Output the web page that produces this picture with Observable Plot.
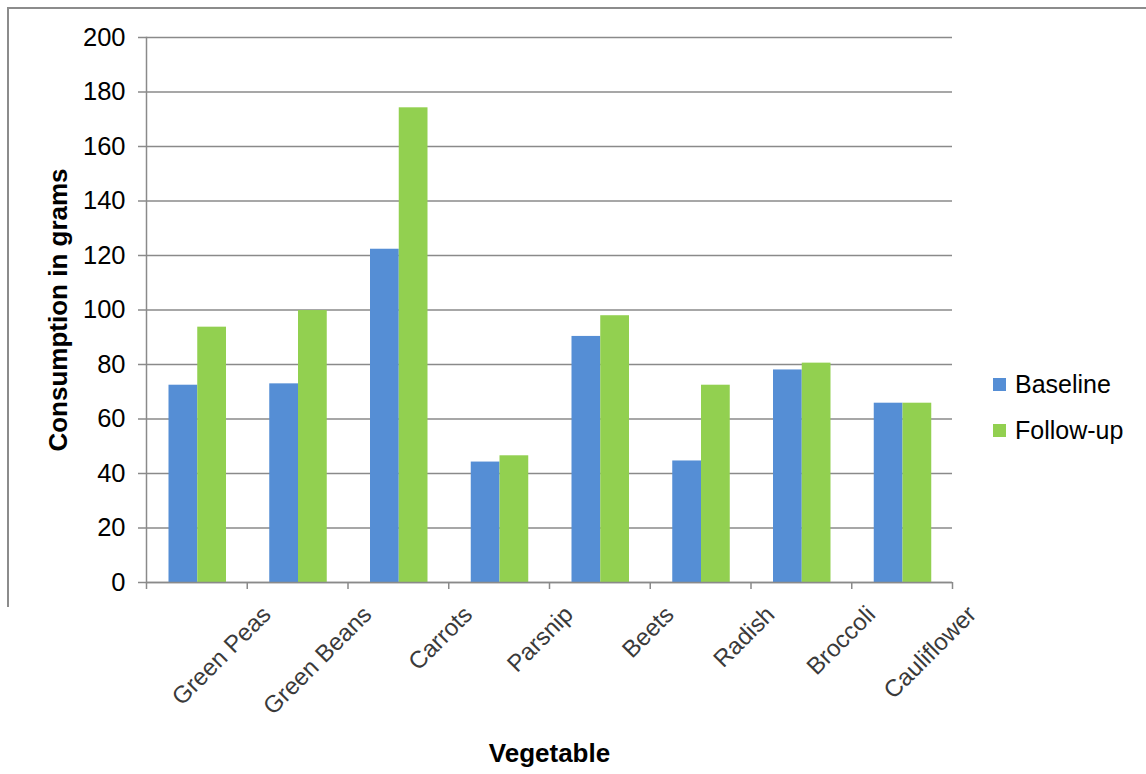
<!DOCTYPE html>
<html>
<head>
<meta charset="utf-8">
<script src="https://cdn.jsdelivr.net/npm/d3@7"></script>
<script src="https://cdn.jsdelivr.net/npm/@observablehq/plot@0.6"></script>
<style>
  html, body { margin: 0; padding: 0; background: #fff; }
  body { width: 1146px; height: 774px; position: relative; overflow: hidden;
         font-family: "Liberation Sans", Arial, sans-serif; }
  #border { position: absolute; left: 7px; top: 7px; width: 1139px; height: 598px;
            border-top: 2px solid #8c8c8c; border-left: 2px solid #8c8c8c; }
  #chart { position: absolute; left: 0; top: 0; }
  #legend { position: absolute; left: 993px; top: 366px; font-size: 25px; color: #000; }
  #legend .item { display: flex; align-items: center; height: 36px; margin-bottom: 10px; }
  #legend .sw { width: 13px; height: 13px; margin-right: 9px; }
</style>
</head>
<body>
<div id="border"></div>
<div id="chart"></div>
<div id="legend"></div>
<script>
// Vegetable consumption (grams), baseline vs follow-up
const vegetables = ["Green Peas", "Green Beans", "Carrots", "Parsnip", "Beets", "Radish", "Broccoli", "Cauliflower"];
const baseline = [72.4, 72.9, 122.3, 44.2, 90.3, 44.6, 78.0, 65.8];
const followUp = [93.7, 99.8, 174.2, 46.5, 97.9, 72.4, 80.5, 65.8];
const seriesNames = ["Baseline", "Follow-up"];
const seriesColors = ["#558ed5", "#92d050"];
const yTicks = [0, 20, 40, 60, 80, 100, 120, 140, 160, 180, 200];

const rows = vegetables.flatMap((veg, i) => [
  {veg, series: seriesNames[0], value: baseline[i]},
  {veg, series: seriesNames[1], value: followUp[i]}
]);

const W = 1146, H = 774;
const mL = 146, mR = 194, mT = 37, mB = 192;
const step = (W - mL - mR) / vegetables.length;
const font = "Liberation Sans, Arial, sans-serif";

const chart = Plot.plot({
  width: W,
  height: H,
  marginLeft: mL,
  marginRight: mR,
  marginTop: mT,
  marginBottom: mB,
  style: {fontFamily: font, background: "transparent", overflow: "visible"},
  x: {type: "band", domain: vegetables, padding: 0, round: false, label: null, axis: null},
  y: {domain: [0, 200], label: null, axis: null},
  color: {domain: seriesNames, range: seriesColors},
  marks: [
    Plot.gridY(yTicks, {stroke: "#8a8a8a", strokeOpacity: 1, strokeWidth: 1.5}),
    // bars: baseline on the left half of each group, follow-up on the right
    Plot.barY(rows.filter(d => d.series === seriesNames[0]), {
      x: "veg", y: "value", fill: "series", insetLeft: 22.5, insetRight: step - 51.25
    }),
    Plot.barY(rows.filter(d => d.series === seriesNames[1]), {
      x: "veg", y: "value", fill: "series", insetLeft: 51.25, insetRight: step - 80
    }),
    Plot.ruleY([0], {stroke: "#8a8a8a", strokeWidth: 1.5}),
    Plot.frame({anchor: "left", stroke: "#8a8a8a", strokeWidth: 1.5}),
    Plot.axisY({
      ticks: yTicks, tickSize: 8, tickPadding: 13, fontSize: 25.5,
      stroke: "#8a8a8a", strokeWidth: 1.5, fill: "#000", label: null
    }),
    // category boundary ticks on the x axis
    Plot.axisX({
      ticks: vegetables, tickSize: 7, tickFormat: () => "", dx: -step / 2,
      stroke: "#8a8a8a", strokeWidth: 1.5, label: null
    }),
    Plot.axisX({
      ticks: vegetables.slice(-1), tickSize: 7, tickFormat: () => "", dx: step / 2,
      stroke: "#8a8a8a", strokeWidth: 1.5, label: null
    }),
    // rotated category labels
    Plot.text(vegetables, {
      x: d => d, frameAnchor: "bottom", rotate: -45, textAnchor: "end",
      lineAnchor: "middle", dx: 70, dy: 28, fontSize: 24, fill: "#3a3a3a"
    }),
    Plot.text(["Consumption in grams"], {
      frameAnchor: "left", rotate: -90, dx: -88, fontSize: 26,
      fontWeight: "bold", fill: "#000", textAnchor: "middle", lineAnchor: "middle"
    }),
    Plot.text(["Vegetable"], {
      frameAnchor: "bottom", dy: 171, fontSize: 26,
      fontWeight: "bold", fill: "#000", textAnchor: "middle", lineAnchor: "middle"
    })
  ]
});
document.getElementById("chart").append(chart);

const legend = document.getElementById("legend");
seriesNames.forEach((name, i) => {
  const item = document.createElement("div");
  item.className = "item";
  const sw = document.createElement("span");
  sw.className = "sw";
  sw.style.background = seriesColors[i];
  const label = document.createElement("span");
  label.textContent = name;
  item.append(sw, label);
  legend.append(item);
});
</script>
</body>
</html>
